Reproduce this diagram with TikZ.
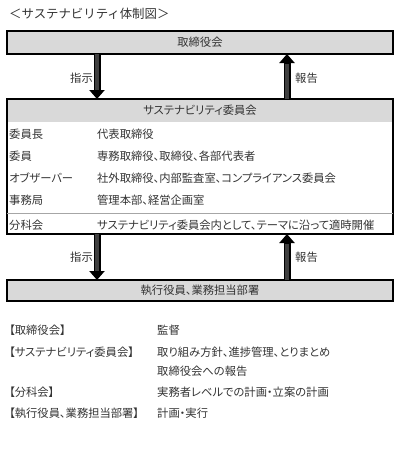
\documentclass[tikz,border=0pt]{standalone}
\usepackage{fontspec}
\setmainfont[RawFeature=+palt]{Noto Sans CJK JP}
\newfontfamily\titlefont{Noto Sans CJK JP}
\usetikzlibrary{arrows.meta,calc}
\definecolor{boxgray}{HTML}{D9D9D9}
\definecolor{txtc}{HTML}{333333}
\definecolor{shaftgray}{HTML}{404040}
\definecolor{sepgray}{HTML}{A6A6A6}
\begin{document}
\begin{tikzpicture}[x=1pt,y=-1pt,
  box/.style={draw=black,line width=1.3pt,fill=boxgray,minimum width=386pt,minimum height=23pt,anchor=north west,inner sep=0pt,outer sep=0pt,font=\fontsize{11.3}{11.3}\selectfont,text=txtc},
  txt/.style={font=\fontsize{11.3}{11.3}\selectfont,text=txtc,inner sep=0pt,anchor=west},
  lbl/.style={font=\fontsize{11.3}{11.3}\selectfont,text=txtc,inner sep=0pt},
  fatout/.style={line width=7pt,draw=black,-{Triangle[width=15pt,length=9pt]}},
  fatin/.style={line width=4.6pt,draw=shaftgray,shorten >=9.5pt}]
\useasboundingbox (0,0) rectangle (400,451);
% title
\node[txt,font=\titlefont\fontsize{12.4}{12.4}\selectfont] (title) at (9,14) {＜サステナビリティ体制図＞};
% top box
\node[box] (top) at (7,31) {取締役会};
% committee box
\fill[boxgray] (7,99) rectangle (393,122);
\node[draw=black,line width=1.3pt,minimum width=386pt,minimum height=135pt,anchor=north west,inner sep=0pt,outer sep=0pt] (comm) at (7,99) {};
\node[lbl] (commh) at (200,110.5) {サステナビリティ委員会};
\draw[sepgray,line width=0.8pt] (comm.west |- 0,213) -- (comm.east |- 0,213);
\node[txt] (r1a) at (9,134) {委員長};
\node[txt] (r1b) at (97,134) {代表取締役};
\node[txt] (r2a) at (9,156) {委員};
\node[txt] (r2b) at (97,156) {専務取締役、取締役、各部代表者};
\node[txt] (r3a) at (9,178) {オブザーバー};
\node[txt] (r3b) at (97,178) {社外取締役、内部監査室、コンプライアンス委員会};
\node[txt] (r4a) at (9,200) {事務局};
\node[txt] (r4b) at (97,200) {管理本部、経営企画室};
\node[txt] (r5a) at (9,225) {分科会};
\node[txt] (r5b) at (97,225) {サステナビリティ委員会内として、テーマに沿って適時開催};
% bottom box
\node[box,minimum height=21pt] (bot) at (7,280) {執行役員、業務担当部署};
% arrows
\coordinate (xa) at (97,0);
\coordinate (xb) at (287,0);
\draw[fatout] (top.south -| xa) -- (comm.north -| xa);
\draw[fatin] (top.south -| xa) -- (comm.north -| xa);
\draw[fatout] (comm.north -| xb) -- (top.south -| xb);
\draw[fatin] (comm.north -| xb) -- (top.south -| xb);
\draw[fatout] (comm.south -| xa) -- (bot.north -| xa);
\draw[fatin] (comm.south -| xa) -- (bot.north -| xa);
\draw[fatout] (bot.north -| xb) -- (comm.south -| xb);
\draw[fatin] (bot.north -| xb) -- (comm.south -| xb);
\node[lbl,anchor=east] (l1) at (93,78) {指示};
\node[lbl,anchor=west] (l2) at (295,78) {報告};
\node[lbl,anchor=east] (l3) at (93,257) {指示};
\node[lbl,anchor=west] (l4) at (295,257) {報告};
% legend
\node[txt] (b1a) at (9,330) {【取締役会】};
\node[txt] (b1b) at (157,330) {監督};
\node[txt] (b2a) at (9,352) {【サステナビリティ委員会】};
\node[txt] (b2b) at (157,352) {取り組み方針、進捗管理、とりまとめ};
\node[txt] (b2c) at (157,371) {取締役会への報告};
\node[txt] (b3a) at (9,392) {【分科会】};
\node[txt] (b3b) at (157,392) {実務者レベルでの計画・立案の計画};
\node[txt] (b4a) at (9,413) {【執行役員、業務担当部署】};
\node[txt] (b4b) at (157,413) {計画・実行};
\end{tikzpicture}
\end{document}
